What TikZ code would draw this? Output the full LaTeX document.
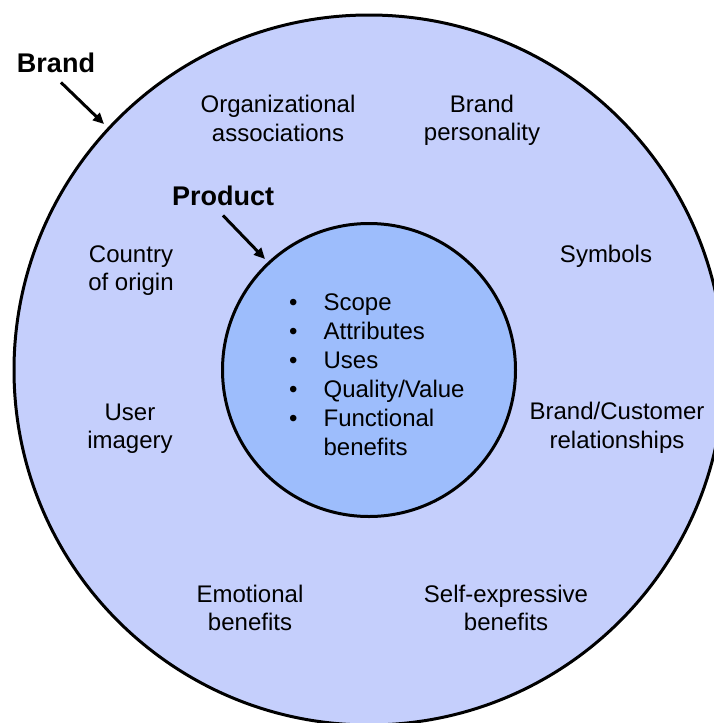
\documentclass[tikz,border=0pt]{standalone}
\usepackage{fontspec}
\setmainfont{Liberation Sans}
\usetikzlibrary{arrows.meta}
\definecolor{outerfill}{RGB}{197,207,252}
\definecolor{innerfill}{RGB}{157,189,252}
\tikzset{
  ring/.style={draw=black, line width=3pt},
  lbl/.style={inner sep=0pt, align=center, anchor=north, font=\fontsize{24}{28.5}\selectfont},
  title/.style={inner sep=0pt, anchor=base, font=\fontsize{27}{32}\selectfont\bfseries},
  pointer/.style={line width=3pt, -{Triangle[length=11pt,width=10pt]}}
}
\begin{document}
\begin{tikzpicture}[x=1pt,y=-1pt]
\useasboundingbox (0,0) rectangle (714,723);
\begin{scope}
\clip (0,0) rectangle (714,723);
\node[ring, circle, fill=outerfill, minimum size=710pt, inner sep=0pt] (outer) at (369,370) {};
\end{scope}
\node[ring, circle, fill=innerfill, minimum size=293pt, inner sep=0pt] (inner) at (369,370) {};

\node[title] (brandlbl) at (56,72) {Brand};
\node[title] (productlbl) at (223,205) {Product};
\coordinate (brandtip) at (104,124);
\coordinate (producttip) at (265,259);
\draw[pointer] ([shift={(5,10)}]brandlbl.south) -- (brandtip);
\draw[pointer] ([shift={(0,10)}]productlbl.south) -- (producttip);

\node[lbl] (org) at (278,92.5) {\strut Organizational\\\strut associations};
\node[lbl] (pers) at (482,92) {\strut Brand\\\strut personality};
\node[lbl] (country) at (131,242) {\strut Country\\\strut of origin};
\node[lbl] (symbols) at (606,242) {\strut Symbols};
\node[lbl] (user) at (130,400) {\strut User\\\strut imagery};
\node[lbl] (rel) at (617,399.5) {\strut Brand/Customer\\\strut relationships};
\node[lbl] (emo) at (250,582) {\strut Emotional\\\strut benefits};
\node[lbl] (self) at (506,582) {\strut Self-expressive\\\strut benefits};

\node[inner sep=0pt, anchor=north west, font=\fontsize{24}{29}\selectfont] (items) at (289,290) {%
\begin{tabular}{@{}l@{\hspace{26pt}}l@{}}
\textbullet & Scope\\
\textbullet & Attributes\\
\textbullet & Uses\\
\textbullet & Quality/Value\\
\textbullet & Functional\\
 & benefits
\end{tabular}};
\end{tikzpicture}
\end{document}
